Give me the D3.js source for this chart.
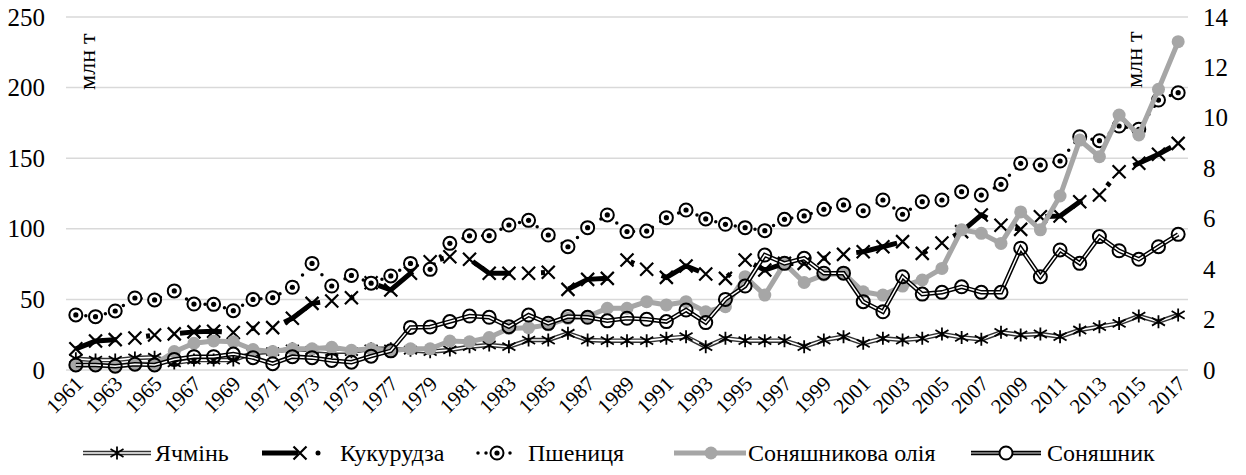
<!DOCTYPE html>
<html>
<head>
<meta charset="utf-8">
<script src="https://cdn.jsdelivr.net/npm/d3@7"></script>
<style>
  svg text { font-family: "Times New Roman", "Liberation Serif", Tinos, serif; }
</style>
</head>
<body style="margin:0;background:#fff">
<svg id="s" width="1246" height="475" font-family="Times New Roman, Liberation Serif, serif"></svg>
<script>
// categories
var years = [1961,1962,1963,1964,1965,1966,1967,1968,1969,1970,1971,1972,1973,1974,1975,1976,1977,1978,1979,1980,
  1981,1982,1983,1984,1985,1986,1987,1988,1989,1990,1991,1992,1993,1994,1995,1996,1997,1998,1999,2000,
  2001,2002,2003,2004,2005,2006,2007,2008,2009,2010,2011,2012,2013,2014,2015,2016,2017];
var yearLabels = years.filter(function(y){ return (y - 1961) % 2 === 0; });

// left axis, млн т
var barley = [8,7,7,8.5,9,5,7,7,7,12,13,15,14,13,13,15,15,14,13,14.2,
  16.5,17.7,16.5,21.2,21.2,26,21.2,20.8,20.8,20.8,22.4,23.6,16.5,22.4,20.8,20.8,20.8,16.5,21.2,23.6,
  18.9,22.4,21.2,22.4,25.5,23.1,21.7,26.7,24.8,25.5,23.6,28.3,30.7,33,38.2,34.2,39];
var corn = [15,20.5,21.5,22.7,24.8,25.6,27,27.5,26.5,29.5,30,36.6,47.2,48.9,51.2,61.8,56.7,68.5,76.7,80.2,
  78.4,68.5,68.5,68.5,69.2,57.1,64.2,64.9,77.9,71.3,65.6,73.7,68,64.9,77.9,70.8,75.5,75.5,79.1,81.9,
  83.8,87.3,90.9,82.6,90,98,109.8,102.5,99.6,108.6,109,119.2,124,140.4,146.4,152.8,160.5];
var wheat = [39,37.8,41.8,51,49.6,56,46.7,46.5,42,50,51.2,58.6,75.5,59.5,67,61.5,66.6,75.5,71.3,89.7,
  95,95.1,102.7,106,95.6,87.3,100.8,109.8,98,98.4,107.9,113.3,107,103.2,100.8,98.7,106.7,109.1,113.8,116.9,
  112.8,120.4,110.3,119.2,120.4,126.3,123.9,131.5,146.4,145.2,148,165.2,162.4,172.8,170.5,191.2,196.4];

// right axis, млн т
var sunOil = [0.17,0.20,0.14,0.25,0.22,0.73,1.06,1.15,1.12,0.81,0.73,0.84,0.84,0.90,0.78,0.84,0.76,0.84,0.84,1.15,
  1.12,1.29,1.65,1.68,1.79,2.05,2.12,2.45,2.45,2.71,2.58,2.71,2.31,2.51,3.70,2.97,4.23,3.47,3.77,3.84,
  3.10,2.97,3.33,3.57,4.03,5.56,5.42,5.02,6.27,5.56,6.90,9.12,8.46,10.11,9.32,11.13,13.02];
var sunflower = [0.20,0.20,0.15,0.23,0.20,0.42,0.53,0.53,0.63,0.49,0.25,0.53,0.49,0.38,0.31,0.55,0.76,1.69,1.71,1.92,
  2.14,2.09,1.72,2.18,1.85,2.12,2.09,1.95,2.05,2.01,1.92,2.38,1.88,2.80,3.33,4.56,4.23,4.43,3.84,3.84,
  2.71,2.31,3.70,3.01,3.08,3.30,3.08,3.08,4.83,3.70,4.76,4.23,5.29,4.73,4.39,4.89,5.38];

var leftTicks = [0,50,100,150,200,250];
var rightTicks = [0,2,4,6,8,10,12,14];
var unitLabel = "млн т";
var legendNames = ["Ячмінь", "Кукурудза", "Пшениця", "Соняшникова олія", "Соняшник"];

var FONT = "Times New Roman";
function serif(sel, size){
  return sel.style("font-family", function(){ return FONT; })
            .style("font-size", function(){ return size + "px"; });
}

var svg = d3.select("#s");
var plotL = 66, plotR = 1188, plotT = 17, plotB = 370;

var x = d3.scalePoint().domain(years).range([plotL, plotR]).padding(0.5);
var yL = d3.scaleLinear().domain([0, 250]).range([plotB, plotT]);
var yR = d3.scaleLinear().domain([0, 14]).range([plotB, plotT]);

// gridlines
svg.append("g").selectAll("line").data(leftTicks).enter().append("line")
  .attr("x1", plotL).attr("x2", plotR)
  .attr("y1", function(d){ return yL(d); }).attr("y2", function(d){ return yL(d); })
  .attr("stroke", "#d9d9d9").attr("stroke-width", 1.5);

// axes
var axL = svg.append("g").attr("transform", "translate(" + plotL + ",0)")
  .call(d3.axisLeft(yL).tickValues(leftTicks).tickSize(0).tickPadding(21));
var axR = svg.append("g").attr("transform", "translate(" + plotR + ",0)")
  .call(d3.axisRight(yR).tickValues(rightTicks).tickSize(0).tickPadding(15));
[axL, axR].forEach(function(a){
  a.attr("font-family", null).attr("font-size", null);
  a.select(".domain").remove();
  serif(a.selectAll("text").attr("fill", "#000"), 25);
});

var axB = svg.append("g").attr("transform", "translate(0," + plotB + ")")
  .call(d3.axisBottom(x).tickValues(yearLabels).tickSize(0));
axB.attr("font-family", null).attr("font-size", null);
axB.select(".domain").remove();
serif(axB.selectAll("text"), 21)
  .attr("fill", "#000")
  .attr("text-anchor", "end")
  .attr("y", 0).attr("dy", 0)
  .attr("transform", "translate(8,15) rotate(-45)");

// unit labels
serif(svg.append("text"), 24).attr("transform", "translate(95,90) rotate(-90)").text(unitLabel);
serif(svg.append("text"), 24).attr("transform", "translate(1142,88) rotate(-90)").text(unitLabel);

// marker shapes
function asterisk(s){ return "M0," + (-s) + "V" + s + "M" + (-s) + "," + (-s*0.6) + "L" + s + "," + (s*0.6) + "M" + (-s) + "," + (s*0.6) + "L" + s + "," + (-s*0.6); }
function cross(s){ return "M" + (-s) + "," + (-s) + "L" + s + "," + s + "M" + (-s) + "," + s + "L" + s + "," + (-s); }

function lineL(vals, scale){
  return d3.line().x(function(d, i){ return x(years[i]); }).y(function(d){ return scale(d); })(vals);
}

// Ячмінь
var g1 = svg.append("g");
g1.append("path").attr("d", lineL(barley, yL)).attr("fill", "none").attr("stroke", "#333").attr("stroke-width", 4.5);
g1.append("path").attr("d", lineL(barley, yL)).attr("fill", "none").attr("stroke", "#fff").attr("stroke-width", 1.6);
g1.selectAll(".m").data(barley).enter().append("path")
  .attr("transform", function(d, i){ return "translate(" + x(years[i]) + "," + yL(d) + ")"; })
  .attr("d", asterisk(6.5)).attr("stroke", "#000").attr("stroke-width", 1.8).attr("fill", "none");

// Кукурудза
var g2 = svg.append("g");
g2.append("path").attr("d", lineL(corn, yL)).attr("fill", "none").attr("stroke", "#000")
  .attr("stroke-width", 5).attr("stroke-dasharray", "42,30,4,30");
g2.selectAll(".m").data(corn).enter().append("path")
  .attr("transform", function(d, i){ return "translate(" + x(years[i]) + "," + yL(d) + ")"; })
  .attr("d", cross(6.5)).attr("stroke", "#000").attr("stroke-width", 2.2).attr("fill", "none");

// Пшениця
var g3 = svg.append("g");
g3.append("path").attr("d", lineL(wheat, yL)).attr("fill", "none").attr("stroke", "#000")
  .attr("stroke-width", 3.5).attr("stroke-linecap", "round").attr("stroke-dasharray", "0,10");
var wm = g3.selectAll(".m").data(wheat).enter().append("g")
  .attr("transform", function(d, i){ return "translate(" + x(years[i]) + "," + yL(d) + ")"; });
wm.append("circle").attr("r", 6.5).attr("fill", "#fff").attr("stroke", "#000").attr("stroke-width", 2);
wm.append("circle").attr("r", 2.6).attr("fill", "#000");

// Соняшникова олія
var g4 = svg.append("g");
g4.append("path").attr("d", lineL(sunOil, yR)).attr("fill", "none").attr("stroke", "#a6a6a6").attr("stroke-width", 5);
g4.selectAll(".m").data(sunOil).enter().append("circle")
  .attr("cx", function(d, i){ return x(years[i]); }).attr("cy", function(d){ return yR(d); })
  .attr("r", 6.5).attr("fill", "#a6a6a6");

// Соняшник
var g5 = svg.append("g");
g5.append("path").attr("d", lineL(sunflower, yR)).attr("fill", "none").attr("stroke", "#000").attr("stroke-width", 4.5);
g5.append("path").attr("d", lineL(sunflower, yR)).attr("fill", "none").attr("stroke", "#fff").attr("stroke-width", 1.5);
g5.selectAll(".m").data(sunflower).enter().append("circle")
  .attr("cx", function(d, i){ return x(years[i]); }).attr("cy", function(d){ return yR(d); })
  .attr("r", 6.5).attr("fill", "none").attr("stroke", "#000").attr("stroke-width", 2);

// legend
var ly = 453;
var lg = svg.append("g");
// barley
lg.append("line").attr("x1", 83).attr("x2", 151).attr("y1", ly).attr("y2", ly).attr("stroke", "#333").attr("stroke-width", 4.5);
lg.append("line").attr("x1", 83).attr("x2", 151).attr("y1", ly).attr("y2", ly).attr("stroke", "#fff").attr("stroke-width", 1.6);
lg.append("path").attr("transform", "translate(117," + ly + ")").attr("d", asterisk(6.5)).attr("stroke", "#000").attr("stroke-width", 1.8);
// corn
lg.append("line").attr("x1", 262).attr("x2", 298).attr("y1", ly).attr("y2", ly).attr("stroke", "#000").attr("stroke-width", 5);
lg.append("path").attr("transform", "translate(300," + ly + ")").attr("d", cross(6.5)).attr("stroke", "#000").attr("stroke-width", 2.2);
lg.append("circle").attr("cx", 318).attr("cy", ly).attr("r", 2.5).attr("fill", "#000");
// wheat
lg.append("line").attr("x1", 478).attr("x2", 517).attr("y1", ly).attr("y2", ly).attr("stroke", "#000")
  .attr("stroke-width", 3.5).attr("stroke-linecap", "round").attr("stroke-dasharray", "0,8");
lg.append("circle").attr("cx", 497).attr("cy", ly).attr("r", 6.5).attr("fill", "#fff").attr("stroke", "#000").attr("stroke-width", 2);
lg.append("circle").attr("cx", 497).attr("cy", ly).attr("r", 2.6).attr("fill", "#000");
// oil
lg.append("line").attr("x1", 674).attr("x2", 746).attr("y1", ly).attr("y2", ly).attr("stroke", "#a6a6a6").attr("stroke-width", 5);
lg.append("circle").attr("cx", 711).attr("cy", ly).attr("r", 6.5).attr("fill", "#a6a6a6");
// sunflower
lg.append("line").attr("x1", 971).attr("x2", 1041).attr("y1", ly).attr("y2", ly).attr("stroke", "#000").attr("stroke-width", 4.5);
lg.append("line").attr("x1", 971).attr("x2", 1041).attr("y1", ly).attr("y2", ly).attr("stroke", "#999").attr("stroke-width", 1.5);
lg.append("circle").attr("cx", 1006).attr("cy", ly).attr("r", 6.5).attr("fill", "#fff").attr("stroke", "#000").attr("stroke-width", 2);

var textX = [155, 340, 528, 748, 1047];
serif(lg.selectAll(".lt").data(legendNames).enter().append("text"), 24)
  .attr("x", function(d, i){ return textX[i]; }).attr("y", ly + 8)
  .text(function(d){ return d; });
</script>
</body>
</html>
